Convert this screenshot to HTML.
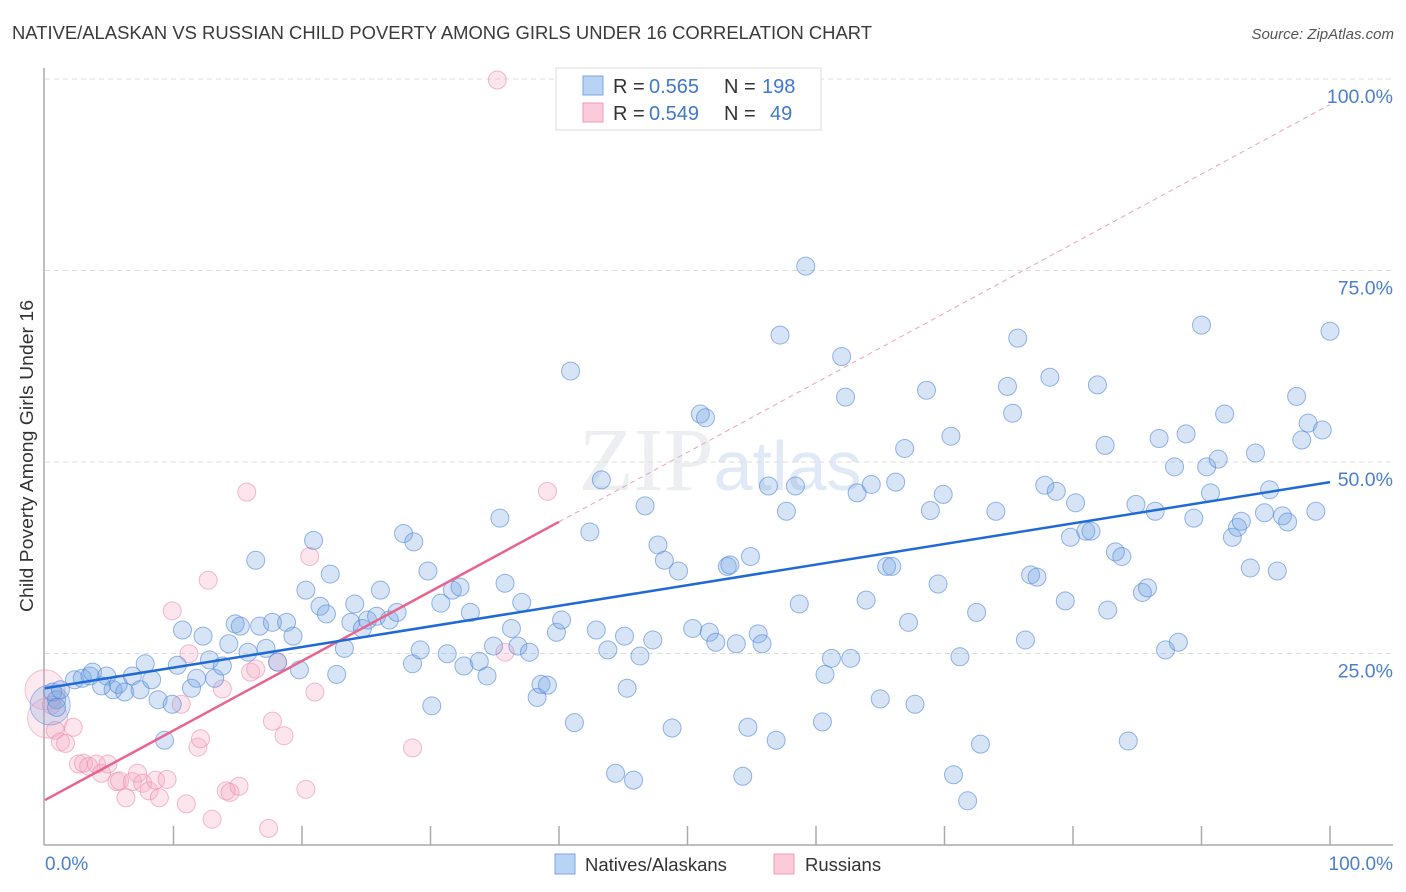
<!DOCTYPE html>
<html><head><meta charset="utf-8">
<style>
body{margin:0;background:#fff;font-family:"Liberation Sans",sans-serif;}
svg{display:block}
</style></head>
<body>
<svg id="chart" width="1406" height="892" viewBox="0 0 1406 892" xmlns="http://www.w3.org/2000/svg">
<text x="12" y="39" font-size="18" textLength="860" lengthAdjust="spacingAndGlyphs" fill="#3a3a3a" font-family="Liberation Sans, sans-serif">NATIVE/ALASKAN VS RUSSIAN CHILD POVERTY AMONG GIRLS UNDER 16 CORRELATION CHART</text>
<text x="1394" y="39" font-size="15" fill="#555" text-anchor="end" font-style="italic">Source: ZipAtlas.com</text>
<text x="720" y="490" font-size="90" text-anchor="middle" fill="#eceef2" font-family="Liberation Serif, serif">ZIP<tspan font-family="Liberation Sans, sans-serif" font-size="70" fill="#e0e9f6">atlas</tspan></text>
<text transform="translate(33,456) rotate(-90)" font-size="18" textLength="312" lengthAdjust="spacingAndGlyphs" fill="#333" text-anchor="middle">Child Poverty Among Girls Under 16</text>
<g id="grid"></g>
<g id="axes"></g>
<g id="pinkpts"></g>
<g id="bluepts"></g>
<g id="lines"></g>
<g>
<rect x="556" y="68" width="265" height="62" fill="#fff" stroke="#ddd"/>
<rect x="583" y="76" width="20" height="19" fill="#b9d3f5" stroke="#7aa6e3"/>
<rect x="583" y="103" width="20" height="19" fill="#fbcbd9" stroke="#f09ab5"/>
<text x="613" y="93" font-size="20" fill="#333">R =</text>
<text x="649" y="93" font-size="20" fill="#3f78d0">0.565</text>
<text x="724" y="93" font-size="20" fill="#333">N =</text>
<text x="762" y="93" font-size="20" fill="#3f78d0">198</text>
<text x="613" y="120" font-size="20" fill="#333">R =</text>
<text x="649" y="120" font-size="20" fill="#3f78d0">0.549</text>
<text x="724" y="120" font-size="20" fill="#333">N =</text>
<text x="770" y="120" font-size="20" fill="#3f78d0">49</text>
</g>
<g>
<rect x="555" y="854" width="20" height="20" fill="#b9d3f5" stroke="#7aa6e3"/>
<text x="585" y="871" font-size="18.5" fill="#333">Natives/Alaskans</text>
<rect x="774" y="854" width="20" height="20" fill="#fbcbd9" stroke="#f09ab5"/>
<text x="805" y="871" font-size="18.5" fill="#333">Russians</text>
</g>
</svg>
<script>
const blueX=[0.9,0.6,1.2,0.9,2.3,2.9,3.5,3.7,4.4,4.8,5.3,5.7,6.2,6.8,7.4,7.8,8.3,8.8,9.3,9.9,10.3,10.7,11.4,11.8,12.3,12.8,13.2,13.8,14.3,14.8,15.2,15.8,16.4,16.7,17.2,17.7,18.1,18.8,19.3,19.8,20.3,20.9,21.4,21.9,22.2,22.7,23.3,23.8,24.1,24.7,25.1,25.8,26.1,26.8,27.4,27.9,28.6,28.7,29.2,29.8,30.1,30.8,31.3,31.7,32.3,32.6,33.1,33.8,34.4,34.9,35.4,35.8,36.3,36.8,37.1,37.7,38.3,38.6,39.1,39.8,40.2,40.9,41.2,42.4,42.9,43.3,43.8,44.4,45.1,45.3,45.8,46.3,46.7,47.3,47.7,48.2,48.8,49.3,50.4,51.0,51.4,51.7,52.2,53.1,53.3,53.8,54.3,54.7,54.9,55.5,55.8,56.3,56.9,57.2,57.7,58.4,58.7,59.2,60.5,60.7,61.2,62.0,62.3,62.7,63.2,63.9,64.3,65.0,65.5,65.9,66.2,66.9,67.2,67.7,68.6,68.9,69.5,69.9,70.5,70.7,71.2,71.8,72.5,72.8,74.0,74.9,75.3,75.7,76.3,76.7,77.2,77.8,78.2,78.7,79.4,79.8,80.2,81.0,81.4,81.9,82.5,82.7,83.3,83.8,84.3,84.9,85.4,85.8,86.4,86.7,87.2,87.9,88.2,88.8,89.4,90.0,90.4,90.7,91.3,91.8,92.4,92.8,93.1,93.8,94.2,94.9,95.3,95.9,96.3,96.7,97.4,97.8,98.3,98.9,99.4,100.0];
const blueY=[19.1,20.1,20.4,18.1,21.7,21.9,22.2,22.7,20.9,22.2,20.4,21.1,20.1,22.2,20.4,23.8,21.7,19.1,13.8,18.5,23.6,28.2,20.6,21.9,27.4,24.3,21.9,23.5,26.4,29.0,28.7,25.3,37.3,28.7,25.8,29.2,24.0,29.2,27.4,23.0,33.4,39.9,31.3,30.3,35.5,22.4,25.8,29.2,31.6,28.4,29.5,30.0,33.4,29.5,30.5,40.8,23.8,39.7,25.6,35.9,18.3,31.7,25.1,33.4,33.8,23.5,30.5,24.1,22.2,26.1,42.8,34.3,28.4,26.1,31.8,25.3,19.4,21.1,21.0,27.9,29.5,62.0,16.1,41.0,28.2,47.8,25.6,9.5,27.4,20.6,8.6,24.8,44.4,26.9,39.3,37.3,15.4,35.9,28.4,56.4,55.9,27.9,26.6,36.5,36.7,26.4,9.1,15.5,37.8,27.7,26.4,47.0,13.8,66.7,43.7,47.0,31.6,75.7,16.2,22.4,24.5,63.9,58.6,24.5,46.1,32.1,47.2,19.2,36.5,36.5,47.5,51.9,29.2,18.5,59.5,43.8,34.2,45.9,53.5,9.3,24.7,5.9,30.5,13.3,43.7,60.0,56.5,66.3,26.9,35.4,35.1,47.1,61.2,46.3,32.0,40.3,44.8,41.1,41.1,60.2,52.3,30.8,38.4,37.8,13.7,44.6,33.1,33.7,43.7,53.2,25.6,49.5,26.6,53.8,42.8,68.0,49.5,46.1,50.5,56.4,40.3,41.6,42.4,36.3,51.3,43.5,46.5,35.9,43.1,42.3,58.7,53.0,55.2,43.7,54.3,67.2];
const blueBigX=[0.4];
const blueBigY=[18.4];
const pinkX=[0.8,1.2,1.6,2.2,2.6,3.0,3.4,4.0,4.4,4.9,5.6,5.8,6.3,6.8,7.2,7.6,8.1,8.6,8.9,9.5,9.9,10.6,11.0,11.2,11.9,12.1,12.7,13.0,13.8,14.1,14.4,15.1,15.7,16.0,16.4,17.4,17.7,18.1,18.6,20.3,20.6,21.0,28.6,35.8,39.1,35.2,0.5];
const pinkY=[15.1,13.6,13.4,15.5,10.7,10.8,10.4,10.7,9.5,10.7,8.4,8.5,6.3,8.4,9.5,8.2,7.2,8.6,6.3,8.7,30.7,18.5,5.5,25.1,12.9,14.0,34.7,3.5,20.5,7.2,7.0,7.8,46.2,22.7,23.1,2.3,16.3,24.0,14.4,7.4,37.8,20.1,12.8,25.3,46.3,100.0,18.4];
const pinkBigX=[0,0.2];
const pinkBigY=[20.4,16.7];
const blueTrend=[20.6,47.5];   // value at x=0, x=100
const pinkTrend=[6.0,96.8];    // value at x=0, x=100
const pinkSolidEnd=40;
const yTicks=[25,50,75,100];
const yTickLabels=["25.0%","50.0%","75.0%","100.0%"];
const xTicks=[10,20,30,40,50,60,70,80,90,100];

const NS="http://www.w3.org/2000/svg";
const sx=v=>45+v*12.85;
const sy=v=>846-v*7.66;
function mk(tag,attrs,parent){const e=document.createElementNS(NS,tag);for(const k in attrs)e.setAttribute(k,attrs[k]);parent.appendChild(e);return e;}
const grid=document.getElementById('grid'),axes=document.getElementById('axes');
yTicks.forEach((t,i)=>{
  const l=mk('line',{x1:45,x2:1393,y1:sy(t)-1,y2:sy(t)-1,stroke:'#ddd','stroke-dasharray':'5,4'},grid);
  
  
  const tx=mk('text',{x:1393,y:sy(t)+23,'font-size':19.5,fill:'#4a7fd0','text-anchor':'end'},grid);
  tx.textContent=yTickLabels[i];
  
  
});
const xa=mk('line',{x1:44,x2:1393,y1:845,y2:845,stroke:'#aaa','stroke-width':1.5},axes);


const ya=mk('line',{x1:44,x2:44,y1:68,y2:845,stroke:'#aaa','stroke-width':1.5},axes);


xTicks.forEach(t=>{
  const l=mk('line',{x1:sx(t),x2:sx(t),y1:826,y2:845,stroke:'#aaa','stroke-width':1.5},axes);
  
  
});
const xl0=mk('text',{x:45,y:870,'font-size':19,fill:'#4a7fd0'},axes);xl0.textContent='0.0%';


const xl1=mk('text',{x:1393,y:870,'font-size':19,fill:'#4a7fd0','text-anchor':'end'},axes);xl1.textContent='100.0%';



function dots(xs,ys,r,fill,stroke,g,name){xs.forEach((x,i)=>{
  const c=mk('circle',{cx:sx(x),cy:sy(ys[i]),r:r,fill:fill,stroke:stroke,'stroke-width':1},g);
  
  
});}
const pg=document.getElementById('pinkpts'),bg=document.getElementById('bluepts');
dots(pinkBigX,pinkBigY,20,'rgba(244,170,195,0.25)','rgba(236,140,172,0.5)',pg,'russian-point');
dots(pinkX,pinkY,9,'rgba(244,170,195,0.3)','rgba(236,140,172,0.6)',pg,'russian-point');
dots(blueBigX,blueBigY,20,'rgba(120,165,225,0.25)','rgba(80,135,215,0.5)',bg,'native-point');
dots(blueX,blueY,9,'rgba(120,165,225,0.3)','rgba(80,135,215,0.6)',bg,'native-point');

const lg=document.getElementById('lines');
const pyAt=x=>pinkTrend[0]+(pinkTrend[1]-pinkTrend[0])*x/100;
const byAt=x=>blueTrend[0]+(blueTrend[1]-blueTrend[0])*x/100;
const pd=mk('line',{x1:sx(pinkSolidEnd),y1:sy(pyAt(pinkSolidEnd)),x2:sx(100),y2:sy(pyAt(100)),stroke:'#f0a0b8','stroke-width':1,'stroke-dasharray':'5,4'},lg);


const ps=mk('line',{x1:sx(0),y1:sy(pyAt(0)),x2:sx(pinkSolidEnd),y2:sy(pyAt(pinkSolidEnd)),stroke:'#e8648e','stroke-width':2.5},lg);


const bl=mk('line',{x1:sx(0),y1:sy(byAt(0)),x2:sx(100),y2:sy(byAt(100)),stroke:'#1f6ad6','stroke-width':2.5},lg);


</script>
</body></html>
